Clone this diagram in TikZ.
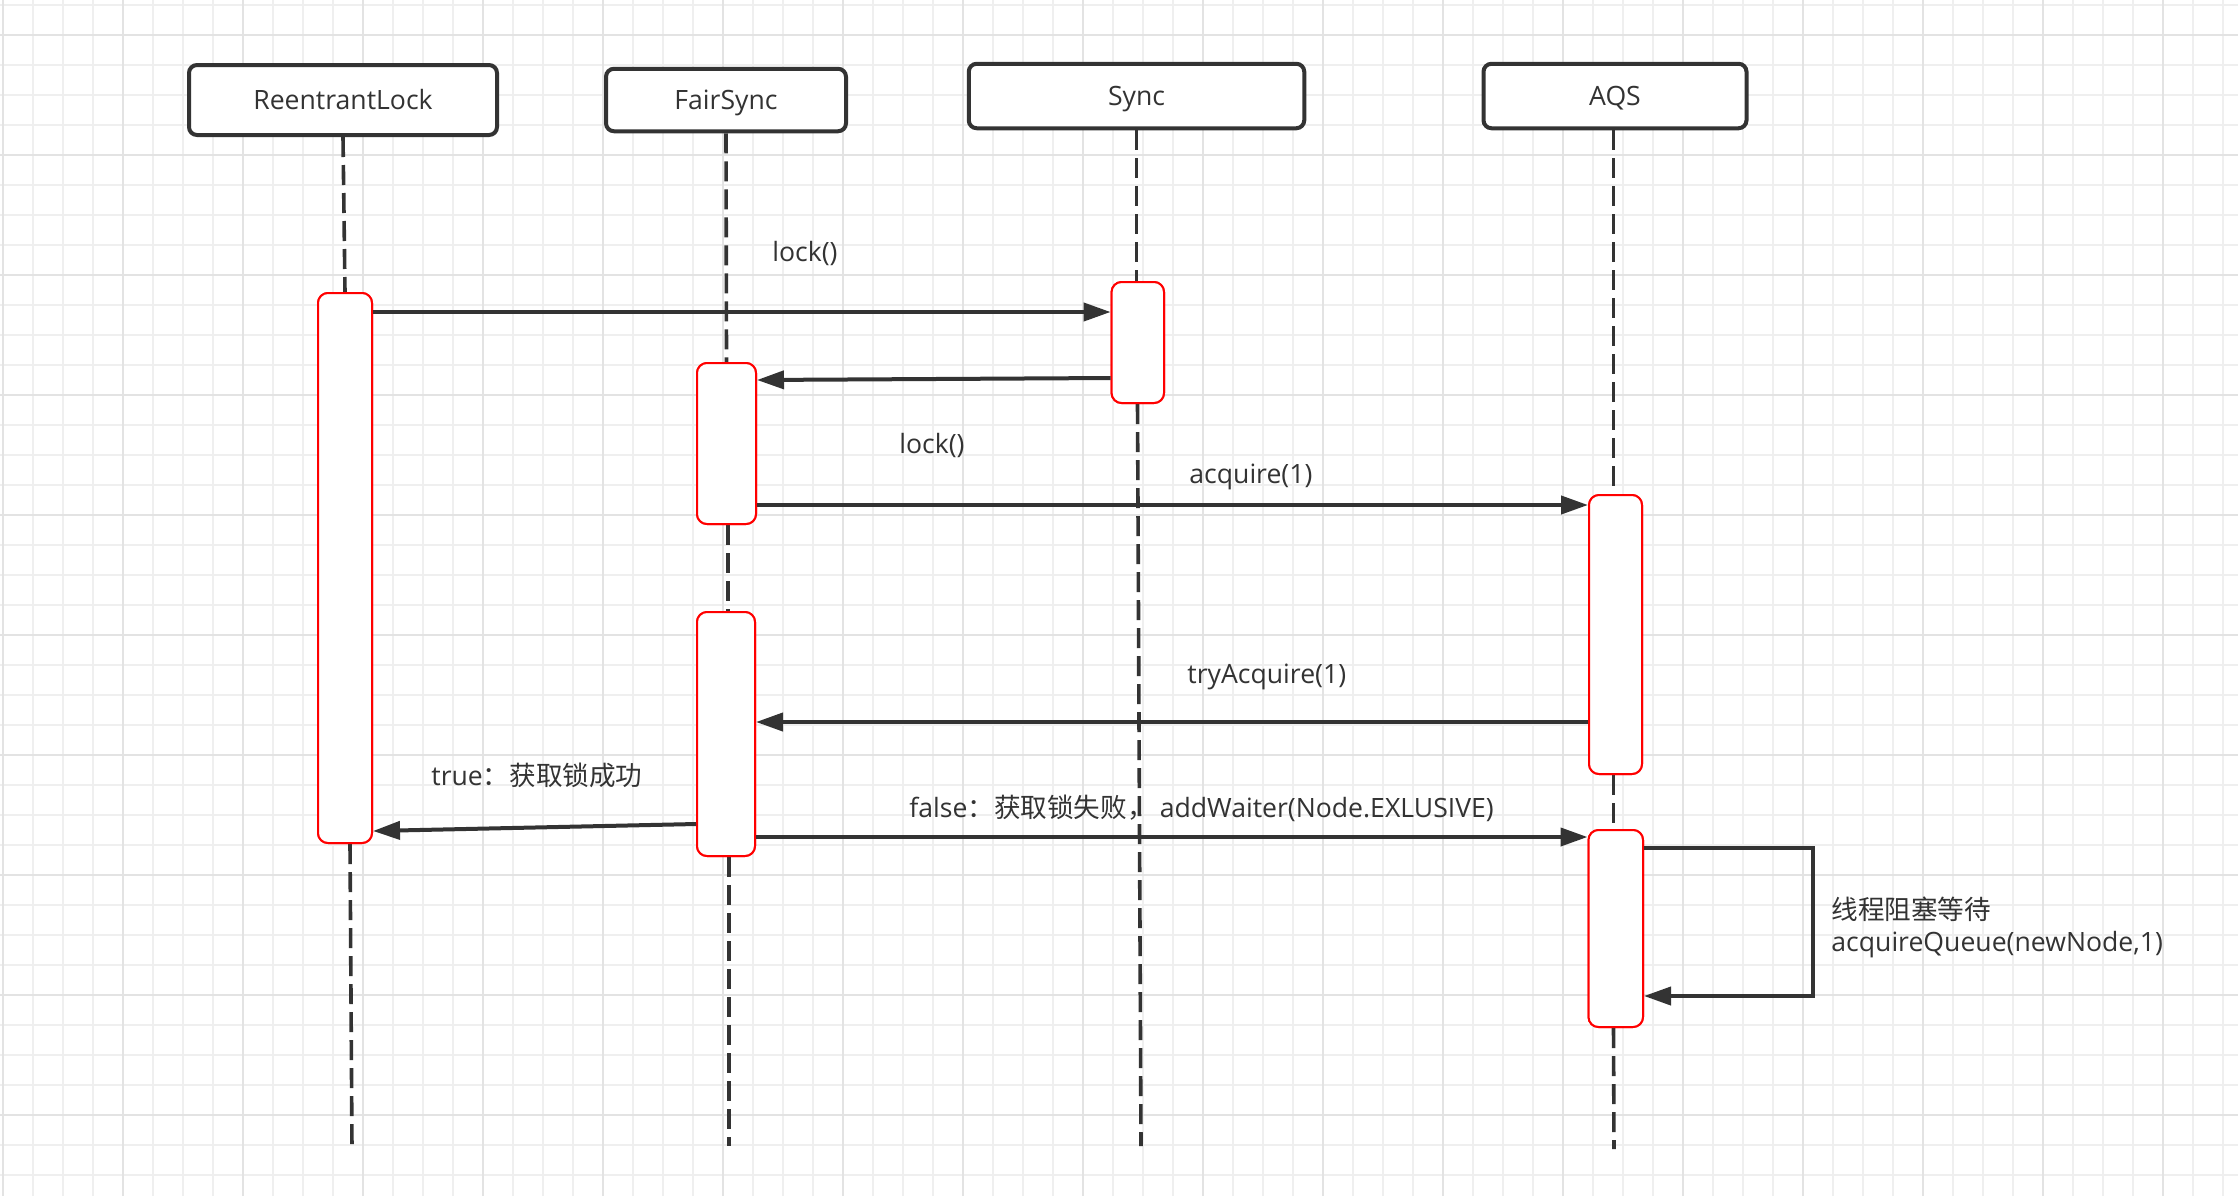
\documentclass[tikz,border=0pt]{standalone}
\usepackage{fontspec}
\setmainfont{Open Sans}
\newfontfamily\cjk{Noto Sans CJK SC}
\usetikzlibrary{arrows.meta}
\definecolor{ink}{HTML}{333333}
\definecolor{gridminor}{HTML}{EFEFEF}
\definecolor{gridmajor}{HTML}{E3E3E3}
\definecolor{actred}{HTML}{FF0000}
\begin{document}
\begin{tikzpicture}[x=0.5pt,y=-0.5pt,
  header/.style={draw=ink, line width=2pt, rounded corners=4pt, fill=white, text=ink,
    font=\fontsize{13.3}{16}\selectfont, text height=9.5pt, text depth=0pt, inner sep=0pt},
  act/.style={draw=actred, line width=1pt, rounded corners=5pt, fill=white, inner sep=0pt},
  life/.style={draw=ink, line width=1.8pt, dash pattern=on 10pt off 4pt},
  msg/.style={draw=ink, line width=2pt, -{Triangle[length=13.5pt,width=9pt]}},
  lbl/.style={text=ink, font=\fontsize{13.3}{16}\selectfont, inner sep=0pt, anchor=base west},
]
% canvas
\fill[white] (0,0) rectangle (2238,1196);
\useasboundingbox (0,0) rectangle (2238,1196);
% grid
\foreach \k in {0,...,74} \draw[gridminor, line width=0.6pt] (3+30*\k,0) -- (3+30*\k,1196);
\foreach \k in {0,...,39} \draw[gridminor, line width=0.6pt] (0,5+30*\k) -- (2238,5+30*\k);
\foreach \k in {0,...,18} \draw[gridmajor, line width=1pt] (3+120*\k,0) -- (3+120*\k,1196);
\foreach \k in {0,...,9} \draw[gridmajor, line width=1pt] (0,35+120*\k) -- (2238,35+120*\k);

% headers
\node[header, minimum width=154pt, minimum height=35pt] (RL) at (343,100) {ReentrantLock};
\node[header, minimum width=120pt, minimum height=31.25pt] (FS) at (726,100) {FairSync};
\node[header, minimum width=167.75pt, minimum height=32.25pt] (SY) at (1136.5,96) {Sync};
\node[header, minimum width=131.5pt, minimum height=32.25pt] (AQ) at (1615,96) {AQS};

% lifeline ends
\coordinate (RLend) at (352,1149);
\coordinate (FSend) at (729,1146);
\coordinate (SYend) at (1141,1146);
\coordinate (AQend) at (1614,1149);

% activation boxes (placed first so that lifelines can refer to them)
\path
  node[act, minimum width=27pt, minimum height=275pt] (A1) at (345,568) {}
  node[act, minimum width=26.2pt, minimum height=60.5pt] (S1) at (1137.8,342.5) {}
  node[act, minimum width=29.5pt, minimum height=80.5pt] (A2) at (726.5,443.5) {}
  node[act, minimum width=29pt, minimum height=122pt] (A3) at (726,734) {}
  node[act, minimum width=26.5pt, minimum height=139.5pt] (A4) at (1615.5,634.5) {}
  node[act, minimum width=27.25pt, minimum height=98.5pt] (A5) at (1615.75,928.5) {};

% lifelines
\draw[life] (RL.south) -- (A1.north);
\draw[life] (A1.south -| 350,0) -- (RLend);
\draw[life] (FS.south) -- (A2.north);
\draw[life] (A2.south -| 728,0) -- (A3.north -| 728,0);
\draw[life] (A3.south -| 729,0) -- (FSend);
\draw[life] (SY.south) -- (S1.north -| 1136.5,0);
\draw[life] (S1.south -| 1137.5,0) -- (SYend);
\draw[life] (AQ.south -| 1613.5,0) -- (A4.north -| 1613.5,0);
\draw[life] (A4.south -| 1613.5,0) -- (A5.north -| 1613.5,0);
\draw[life] (A5.south -| 1613.5,0) -- (AQend);

% redraw activation boxes on top of lifelines
\path
  node[act, minimum width=27pt, minimum height=275pt] at (A1) {}
  node[act, minimum width=26.2pt, minimum height=60.5pt] at (S1) {}
  node[act, minimum width=29.5pt, minimum height=80.5pt] at (A2) {}
  node[act, minimum width=29pt, minimum height=122pt] at (A3) {}
  node[act, minimum width=26.5pt, minimum height=139.5pt] at (A4) {}
  node[act, minimum width=27.25pt, minimum height=98.5pt] at (A5) {};

% messages
\draw[msg] (A1.east |- 0,312) -- (S1.west |- 0,312);
\draw[msg] (S1.west |- 0,378) -- (A2.east |- 0,380);
\draw[msg] (A2.east |- 0,505) -- (A4.west |- 0,505);
\draw[msg] (A4.west |- 0,722) -- (A3.east |- 0,722);
\draw[msg] (A3.west |- 0,824) -- (A1.east |- 0,831);
\draw[msg] (A3.east |- 0,837) -- (A5.west |- 0,837);
\draw[msg] (A5.east |- 0,848) -- ++(169,0) |- (A5.east |- 0,996);

% labels
\node[lbl] (t1) at (772,261) {lock()};
\node[lbl] (t2) at (899,453) {lock()};
\node[lbl] (t3) at (1189,483) {acquire(1)};
\node[lbl] (t4) at (1187,683) {tryAcquire(1)};
\node[lbl] (t5) at (431,785) {true{\cjk ：获取锁成功}};
\node[lbl] (t6) at (909,817) {false{\cjk ：获取锁失败，}\hspace{3pt}addWaiter(Node.EXLUSIVE)};
\node[lbl] (t7) at (1831,919) {\cjk 线程阻塞等待};
\node[lbl] (t8) at (1831,951) {acquireQueue(newNode,1)};
\end{tikzpicture}
\end{document}
